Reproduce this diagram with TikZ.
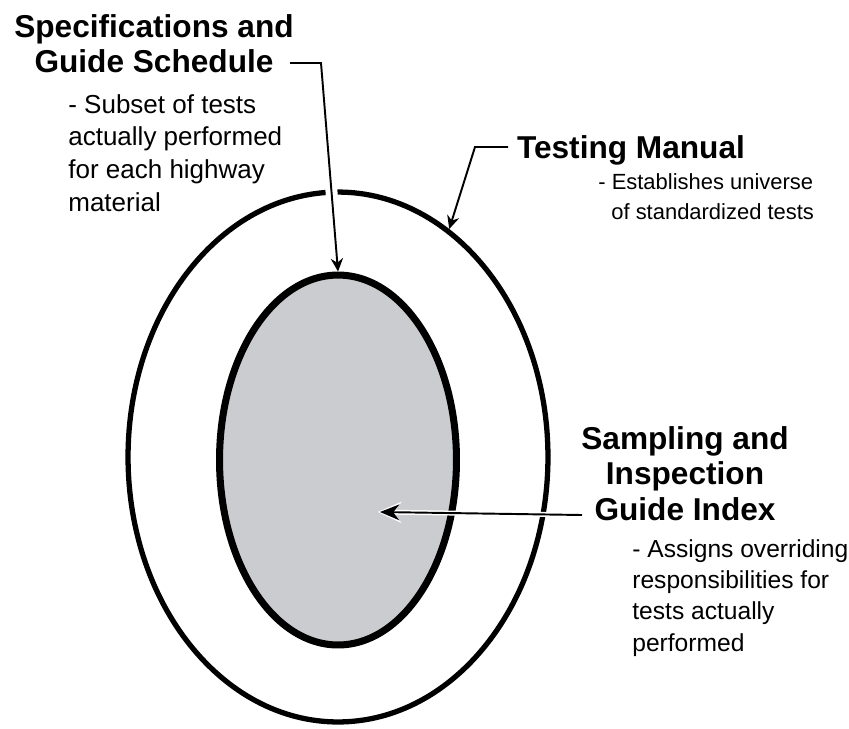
\documentclass[tikz,border=0pt]{standalone}
\usepackage{fontspec}
\setmainfont{Liberation Sans}
\usetikzlibrary{arrows.meta,shapes.geometric,positioning}
\definecolor{coregray}{RGB}{203,204,207}

\tikzset{
  ring/.style={draw, ellipse, line width=3pt, inner sep=0pt},
  head/.style={font=\bfseries\fontsize{18}{20.2}\selectfont, align=center, inner sep=0pt},
  note/.style={font=\fontsize{14.8}{18.6}\selectfont, align=left, inner sep=0pt},
  leader/.style={line width=1.1pt, -{Stealth[length=7.5pt,width=7pt,inset=2.5pt]}},
  halo/.style={preaction={draw=white, line width=#1, -, shorten >=8pt}},
}

\begin{document}
\begin{tikzpicture}[x=0.02cm, y=-0.02cm]
  \useasboundingbox (0,0) rectangle (849,728);
  % Rings
  \node[ring, minimum width=8.4cm, minimum height=10.6cm] (outer) at (338,457) {};
  \node[ring, line width=4pt, fill=coregray, minimum width=4.74cm, minimum height=7.4cm] (inner) at (338,460) {};
  % Labels
  \node[head, anchor=north] (spec) at (154,14) {Specifications and\\Guide Schedule};
  \node[note, anchor=north west] (specnote) at (68,94) {- Subset of tests\\actually performed\\for each highway\\material};
  \node[head, anchor=base] (manual) at (631,158) {Testing Manual};
  \node[note, anchor=north west, font=\fontsize{12.5}{17}\selectfont] (manualnote) at (598,173) {- Establishes universe\\\hspace*{0.26cm}of standardized tests};
  \node[head, anchor=north] (index) at (685,426) {Sampling and\\Inspection\\Guide Index};
  \node[note, anchor=north west, font=\fontsize{14}{17.8}\selectfont] (indexnote) at (632,539) {- Assigns overriding\\responsibilities for\\tests actually\\performed};
  % Leaders
  \coordinate (specfrom) at (290,63);
  \coordinate (specbend) at (321,63);
  \coordinate (manualfrom) at (508,147);
  \coordinate (manualbend) at (475,147);
  \coordinate (indexfrom) at (582,515);
  \coordinate (indexto) at (380,512);
  \draw[leader, halo=6.8pt] (specfrom) -- (specbend) -- (inner.north);
  \draw[leader] (manualfrom) -- (manualbend) -- (outer.64);
  \draw[line width=1.1pt, -{Stealth[length=11pt,width=9pt,inset=3.5pt]},
        preaction={draw=white, line width=2.8pt, shorten >=-1.3pt,
          -{Stealth[length=13.5pt,width=12pt,inset=4.5pt]}}]
    (indexfrom) -- (indexto);
\end{tikzpicture}
\end{document}
